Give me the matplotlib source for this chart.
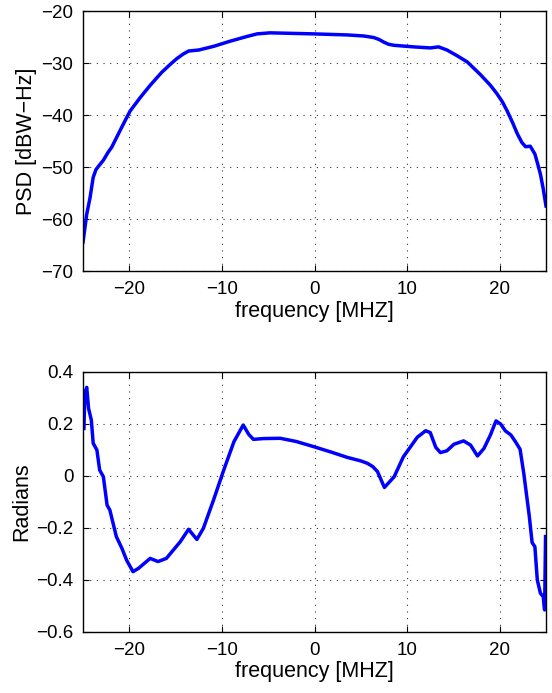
import matplotlib
matplotlib.use("Agg")
import matplotlib.pyplot as plt
import numpy as np

plt.rcParams['font.family'] = ['Liberation Sans', 'DejaVu Sans']

psd_freq = [-25.0, -24.6, -24.24, -23.9, -23.6, -23.3, -22.8, -22.3, -21.9, -21.0, -20.4, -19.9,
            -18.8, -17.75, -16.5, -15.6, -14.9, -14.2, -13.6, -12.5, -10.9, -9.1, -7.3, -6.2,
            -4.8, -0.1, 3.5, 5.3, 6.4, 7.0, 7.5, 8.0, 8.6, 10.7, 12.5, 13.4, 14.3, 15.4, 16.5,
            17.9, 19.0, 19.7, 20.3, 20.8, 21.4, 21.9, 22.4, 22.8, 23.3, 23.8, 24.1, 24.4, 24.7, 25.0]
psd_db = [-64.5, -59.1, -55.9, -52.0, -50.5, -49.8, -48.7, -47.2, -46.2, -43.0, -40.9, -39.2,
          -36.6, -34.3, -31.8, -30.3, -29.2, -28.3, -27.7, -27.5, -26.8, -25.8, -24.9, -24.4,
          -24.2, -24.4, -24.6, -24.8, -25.1, -25.5, -26.0, -26.4, -26.6, -26.9, -27.1, -26.9,
          -27.5, -28.6, -29.8, -32.2, -34.3, -35.9, -37.5, -39.2, -41.5, -43.6, -45.3, -46.1,
          -46.0, -47.5, -49.4, -51.4, -54.2, -57.5]

ph_freq = [-24.9, -24.8, -24.6, -24.4, -24.1, -23.9, -23.5, -23.2, -22.8, -22.4, -22.1, -21.4,
           -20.8, -20.3, -19.6, -19.0, -17.75, -16.9, -16.0, -14.5, -13.6, -12.7, -12.0, -10.9,
           -9.8, -8.7, -7.7, -7.1, -6.6, -5.5, -3.7, -2.0, -0.1, 1.8, 3.5, 5.0, 5.7, 6.3, 6.8,
           7.55, 8.6, 9.6, 11.1, 12.0, 12.5,
           13.1, 13.6, 14.3, 15.05, 16.1, 16.85, 17.6, 18.3, 19.0, 19.6, 20.1, 20.6, 21.2, 21.7,
           22.2, 22.6, 23.2, 23.5, 23.8, 24.06, 24.4, 24.7, 24.85, 24.95]
ph_rad = [0.183, 0.318, 0.341, 0.260, 0.215, 0.126, 0.100, 0.023, -0.003, -0.112, -0.131, -0.233,
          -0.278, -0.323, -0.368, -0.355, -0.317, -0.329, -0.317, -0.253, -0.205, -0.244, -0.201,
          -0.092, 0.023, 0.132, 0.196, 0.160, 0.141, 0.144, 0.145, 0.133, 0.113, 0.092, 0.072,
          0.058, 0.049, 0.036, 0.017, -0.044, -0.003,
          0.074, 0.149, 0.174, 0.167, 0.110, 0.090, 0.097, 0.122, 0.135, 0.119, 0.077, 0.106,
          0.158, 0.212, 0.200, 0.174, 0.158, 0.132, 0.103, 0.010, -0.156, -0.256, -0.272, -0.400,
          -0.451, -0.464, -0.515, -0.233]

xticks = [-20, -10, 0, 10, 20]
psd_yticks = [-70, -60, -50, -40, -30, -20]
ph_yticks = [-0.6, -0.4, -0.2, 0, 0.2, 0.4]
ph_yticklabels = ['\u22120.6', '\u22120.4', '\u22120.2', '0', '0.2', '0.4']

W, H = 552, 693
fig = plt.figure(figsize=(W / 100, H / 100), dpi=100)

ax1 = fig.add_axes([83 / W, 1 - 271 / H, (546 - 83) / W, (271 - 11) / H])
ax2 = fig.add_axes([83 / W, 1 - 632 / H, (546 - 83) / W, (632 - 372) / H])

TICK_FS = 13.5
LABEL_FS = 15.5

def style(ax):
    ax.grid(True, linestyle=(0, (1, 5)), color='black', linewidth=0.8, alpha=0.8)
    ax.tick_params(direction='in', top=True, right=True, labelsize=TICK_FS, length=4,
                   width=0.8, pad=7)
    for s in ax.spines.values():
        s.set_linewidth(1.0)

ax1.plot(psd_freq, psd_db, color='#0000ff', linewidth=2.5)
ax1.set_xlim(-25, 25)
ax1.set_ylim(-70, -20)
ax1.set_xticks(xticks)
ax1.set_yticks(psd_yticks)
ax1.set_xlabel('frequency [MHZ]', fontsize=LABEL_FS, labelpad=2)
ax1.set_ylabel('PSD [dBW\u2212Hz]', fontsize=LABEL_FS, labelpad=3)
style(ax1)

ax2.plot(ph_freq, ph_rad, color='#0000ff', linewidth=2.5)
ax2.set_xlim(-25, 25)
ax2.set_ylim(-0.6, 0.4)
ax2.set_xticks(xticks)
ax2.set_yticks(ph_yticks)
ax2.set_yticklabels(ph_yticklabels)
ax2.set_xlabel('frequency [MHZ]', fontsize=LABEL_FS, labelpad=2)
ax2.set_ylabel('Radians', fontsize=LABEL_FS, labelpad=3)
style(ax2)

fig.savefig('out.png', dpi=100, facecolor='white')
